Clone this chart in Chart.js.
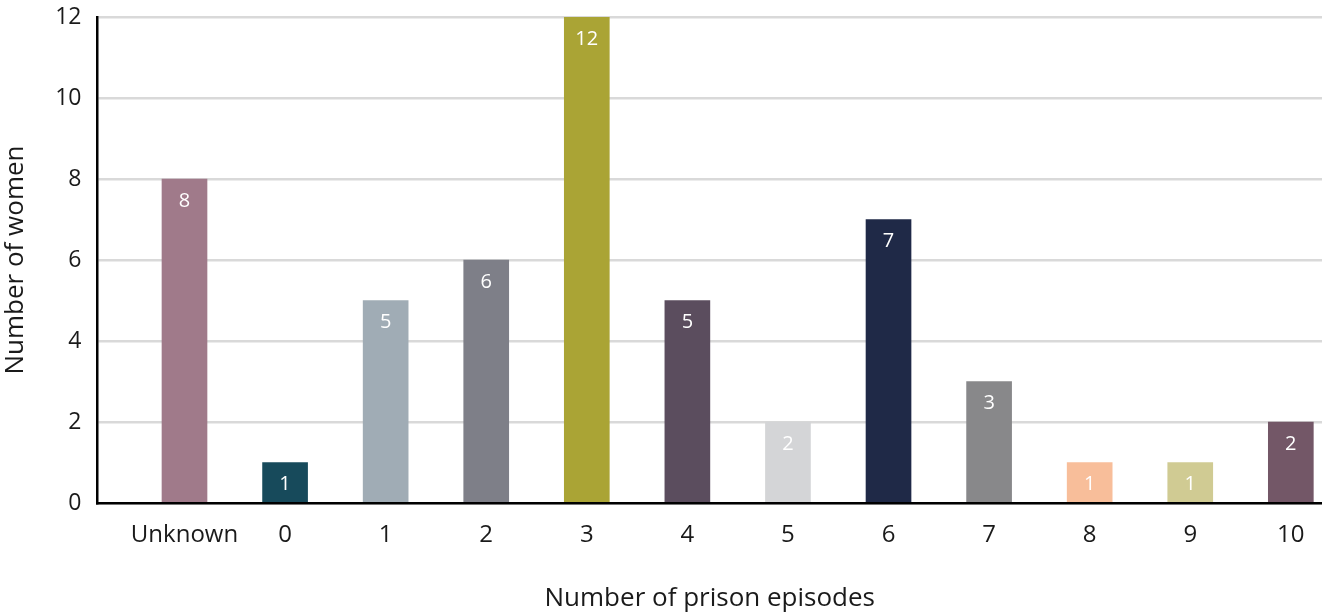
<!DOCTYPE html>
<html>
<head>
<meta charset="utf-8">
<script src="https://cdn.jsdelivr.net/npm/chart.js@4"></script>
<style>
  html, body { margin: 0; padding: 0; background: #fff; }
  #wrap { width: 1322px; height: 612px; }
</style>
</head>
<body>
<div id="wrap"><canvas id="episodesChart"></canvas></div>
<script>
// Women by number of prison episodes
const categories = ["Unknown", "0", "1", "2", "3", "4", "5", "6", "7", "8", "9", "10"];
const counts = [8, 1, 5, 6, 12, 5, 2, 7, 3, 1, 1, 2];
const barColors = [
  "#A07A8A", "#174A5B", "#A0ACB5", "#7E7F88", "#AAA435", "#5B4D5E",
  "#D4D5D7", "#1F2947", "#88888A", "#F8BE9A", "#D0CB93", "#735767"
];
const yTicks = [0, 2, 4, 6, 8, 10, 12];

const FONT = "'Open Sans', 'Noto Sans', sans-serif";

// Write each value in white just below the top of its bar
const barValueLabels = {
  id: "barValueLabels",
  afterDatasetsDraw(chart) {
    const ctx = chart.ctx;
    const meta = chart.getDatasetMeta(0);
    ctx.save();
    ctx.fillStyle = "#ffffff";
    ctx.font = "20px " + FONT;
    ctx.textAlign = "center";
    ctx.textBaseline = "middle";
    meta.data.forEach((bar, i) => {
      ctx.fillText(String(counts[i]), bar.x, bar.y + 22);
    });
    ctx.restore();
  },
};

const ctx = document.getElementById("episodesChart").getContext("2d");

window.episodesChart = new Chart(ctx, {
  type: "bar",
  data: {
    datasets: [
      {
        data: counts.map((v, i) => ({ x: i, y: v })),
        backgroundColor: barColors,
        barThickness: 45,
      },
    ],
  },
  plugins: [barValueLabels],
  options: {
    responsive: true,
    maintainAspectRatio: false,
    animation: false,
    layout: { padding: { top: 17, right: 0, left: 0, bottom: 0 } },
    plugins: {
      legend: { display: false },
      tooltip: { enabled: false },
    },
    scales: {
      x: {
        type: "linear",
        offset: false,
        min: -0.865,
        max: 11.31,
        grid: { display: false, drawTicks: false },
        border: { display: true, color: "#000000", width: 2.5 },
        afterBuildTicks: (scale) => {
          scale.ticks = categories.map((c, i) => ({ value: i }));
        },
        // fixed band below the plot for tick labels and title
        afterFit: (scale) => {
          scale.height = 109;
          scale.paddingLeft = 0;
          scale.paddingRight = 0;
        },
        ticks: {
          autoSkip: false,
          maxRotation: 0,
          padding: 18,
          color: "#1a1a1a",
          font: { family: FONT, size: 24 },
          callback: (value) => categories[value],
        },
        title: {
          display: true,
          text: "Number of prison episodes",
          color: "#1a1a1a",
          font: { family: FONT, size: 26 },
          padding: { top: 33, bottom: -2 },
        },
      },
      y: {
        min: 0,
        max: 12,
        afterBuildTicks: (scale) => {
          scale.ticks = yTicks.map((v) => ({ value: v }));
        },
        afterFit: (scale) => {
          scale.paddingTop = 0;
          scale.paddingBottom = 0;
        },
        grid: { color: "#D9D9D9", lineWidth: 2.5, drawTicks: false },
        border: { display: true, color: "#000000", width: 2.5 },
        ticks: {
          padding: 16,
          color: "#1a1a1a",
          font: { family: FONT, size: 23 },
        },
        title: {
          display: true,
          text: "Number of women",
          color: "#1a1a1a",
          font: { family: FONT, size: 26 },
          padding: { top: 0, bottom: 8 },
        },
      },
    },
  },
});
</script>
</body>
</html>
